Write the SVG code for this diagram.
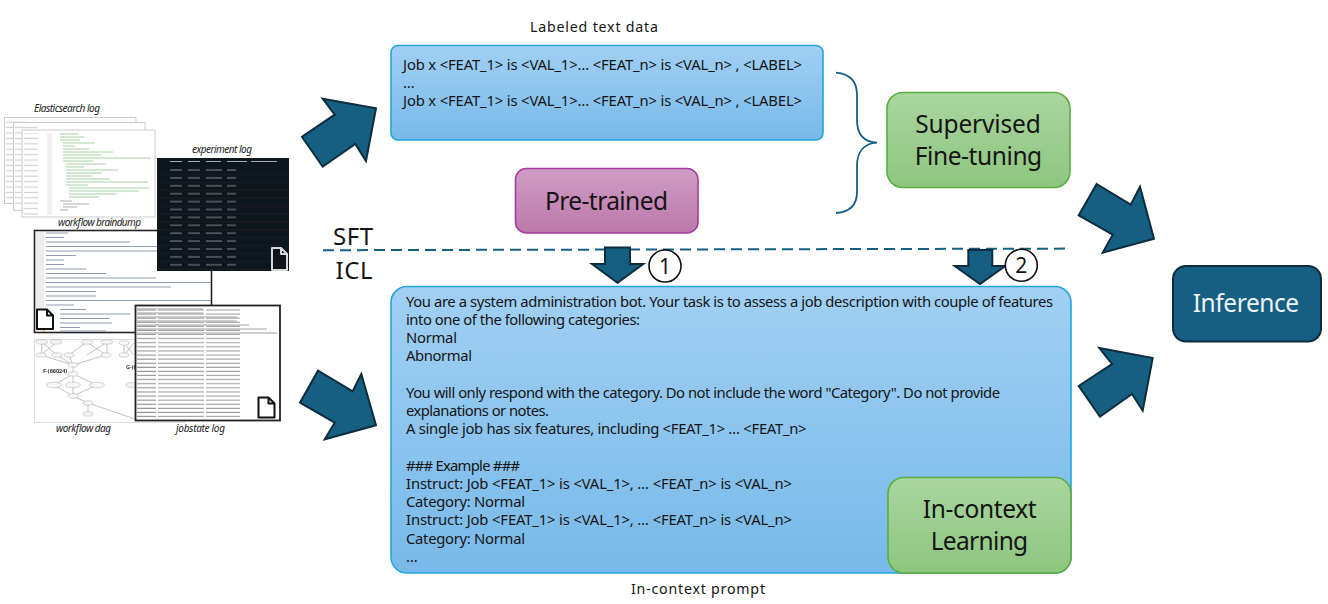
<svg xmlns="http://www.w3.org/2000/svg" width="1328" height="604" viewBox="0 0 1328 604">
<style>
text{font-family:"Noto Sans","Open Sans","Liberation Sans",sans-serif;fill:#151515}
.b{font-size:14.8px}
.h{font-size:24.500px}
.c{font-size:14.200px}
.s{font-size:24px}
.cap{font-size:10px;font-style:italic;fill:#222}
.g{font-size:5.500px;font-weight:700;fill:#333}
.box{stroke-width:1.6}
.arrow{fill:#156082;stroke:#0d2c3e;stroke-width:2}
.doc{stroke-width:2;stroke-linejoin:round}
.num{fill:#fff;stroke:#111;stroke-width:1.6}
.thin{fill:none;stroke:#999;stroke-width:.6}
.n{fill:#f6f6f6;stroke:#aaa;stroke-width:.5}
</style>
<defs>
<linearGradient id="gb" x1="0" y1="0" x2="0" y2="1"><stop offset="0" stop-color="#a0d0f4"/><stop offset="1" stop-color="#78b9e9"/></linearGradient>
<linearGradient id="gg" x1="0" y1="0" x2="0" y2="1"><stop offset="0" stop-color="#aad5a0"/><stop offset="1" stop-color="#8ec67e"/></linearGradient>
<linearGradient id="gp" x1="0" y1="0" x2="0" y2="1"><stop offset="0" stop-color="#d09dc6"/><stop offset="1" stop-color="#bc78ab"/></linearGradient>
<filter id="soft" x="-2%" y="-2%" width="104%" height="104%"><feGaussianBlur stdDeviation="0.4"/></filter>
<pattern id="expRows" patternUnits="userSpaceOnUse" x="157" y="167" width="132" height="7.9">
<rect x="13" y="2.4" width="12" height="1.2" fill="#6f757c"/><rect x="31" y="2.4" width="12" height="1.2" fill="#6f757c"/><rect x="49" y="2.4" width="16" height="1.2" fill="#6f757c"/><rect x="70" y="2.4" width="9" height="1.2" fill="#6f757c"/><rect y="7.2" width="132" height=".5" fill="#20262d"/>
</pattern>
<pattern id="jobRows" patternUnits="userSpaceOnUse" x="136" y="308" width="145" height="4.1">
<rect x="1" y="1.4" width="19" height="1.1" fill="#8f8f8f"/><rect x="22" y="1.4" width="46" height="1.1" fill="#9c9c9c"/><rect x="70" y="1.4" width="34" height="1.1" fill="#9c9c9c"/>
</pattern>
<pattern id="sideRows" patternUnits="userSpaceOnUse" x="0" y="120" width="10" height="5.4">
<rect y="1.6" width="10" height="1.2" fill="#cfcfcf"/>
</pattern>
</defs>

<g id="log-thumbnails">
<g filter="url(#soft)">
<rect x="4.500" y="117.500" width="131.500" height="86" fill="#fff" stroke="#ccc"/>
<rect x="6" y="120" width="22" height="80" fill="url(#sideRows)"/>
<rect x="13.500" y="122.500" width="131.500" height="88" fill="#fff" stroke="#ccc"/>
<rect x="15" y="125" width="22" height="80" fill="url(#sideRows)"/>
<rect x="22" y="130" width="133" height="87" fill="#fff" stroke="#ccc"/>
<rect x="24" y="133" width="14" height="82" fill="url(#sideRows)"/>
<rect x="47" y="133" width="5" height="82" fill="#f0f0f0"/>
<path d="M60 134h18M60 137h24M60 140h20M63 143h32M63 146h12M63 149h26M63 152h50M63 155h38M63 158h88M63 161h30M66 164h40M66 167h18M66 170h52M66 173h36M66 176h26M66 179h44M66 182h82M66 185h22M69 188h80M69 191h70M69 194h48M69 197h30" stroke="#8fc48a" stroke-width=".8" fill="none"/>
<path d="M60 201h12M63 204h26M63 207h14M60 210h8" stroke="#999" stroke-width=".8" fill="none"/>

<rect x="34.500" y="230.500" width="177" height="102" fill="#fff" stroke="#222" stroke-width="1.600"/>
<rect x="36" y="232" width="8" height="99" fill="#ececec"/>
<path d="M46 233h22M46 237.500h18M46 242h84M46 246.500h112M46 251h128M46 255.500h30M46 260h18M46 264.500h18M46 269h40M46 273.500h60M46 278h110M46 282.500h165M46 287h125M46 291.500h50M46 296h50M46 300.500h165M46 305h28M60 309.500h26M60 314h70M60 318.500h50M60 323h52M60 327.500h20M60 331h46" stroke="#8e9bb0" stroke-width="1" fill="none"/>
<path d="M44 326v6" stroke="#d9822b" stroke-width="1"/>

<rect x="157" y="158" width="132" height="113" fill="#10151c"/>
<path d="M170 161.500h12M188 161.500h12M206 161.500h15M227 161.500h20M251 161.500h26" stroke="#a8acb2" stroke-width="1.200" fill="none"/>
<rect x="157" y="167" width="132" height="104" fill="url(#expRows)"/>

<rect x="34.500" y="339.500" width="150" height="83" fill="#fff" stroke="#ddd"/>
<g>
<path class="thin" d="M41.700 342L57 355M57 342L41 355M41.700 342V355M87 342L69 355M87 342L106 355M107 342L87 355M107 342V355M41 355L73 365M57 355L73 365M69 355L73 365M106 355L73 365M73 365V374M73 374L54 385M73 374V385M73 374L97 385M54 385L73 396M73 385V396M97 385L73 396M73 396L88 403M88 403V414M88 403L135 419"/>
<ellipse class="n" cx="41.700" cy="342" rx="6" ry="2.200"/><ellipse class="n" cx="56" cy="342" rx="6" ry="2.200"/><ellipse class="n" cx="87" cy="342" rx="6" ry="2.200"/><ellipse class="n" cx="107" cy="342" rx="6" ry="2.200"/>
<ellipse class="n" cx="41" cy="355" rx="5" ry="2.200"/><ellipse class="n" cx="57" cy="355" rx="5" ry="2.200"/><ellipse class="n" cx="69" cy="355" rx="5" ry="2.200"/><ellipse class="n" cx="106" cy="355" rx="5" ry="2.200"/>
<ellipse class="n" cx="73" cy="365" rx="5" ry="2.200"/><ellipse class="n" cx="73" cy="374" rx="5" ry="2.200"/>
<ellipse class="n" cx="54" cy="385" rx="7.500" ry="2.800"/><ellipse class="n" cx="73" cy="385" rx="7.500" ry="2.800"/><ellipse class="n" cx="97" cy="385" rx="7.500" ry="2.800"/>
<ellipse class="n" cx="73" cy="396" rx="5" ry="2.200"/><ellipse class="n" cx="88" cy="403" rx="5" ry="2.200"/><ellipse class="n" cx="88" cy="414" rx="5.500" ry="2.200"/>
<path class="thin" d="M124 343L134 355M134 343L124 355M124 343V355"/>
<ellipse class="n" cx="124" cy="343" rx="5" ry="2.200"/><ellipse class="n" cx="124" cy="355" rx="5" ry="2.200"/><ellipse class="n" cx="131" cy="385" rx="5" ry="2.400"/>
</g>
<text class="g" x="43" y="373">F-(66024)</text>
<text class="g" x="126" y="369">G-(66</text>

<rect x="135.500" y="305.500" width="144.500" height="115" fill="#fff" stroke="#222" stroke-width="1.800"/>
<rect x="137" y="307" width="142" height="112" fill="url(#jobRows)"/>
<path d="M137 309h66M137 313h66M137 317h100M137 321h100M137 325h112M137 329h130M137 333h140" stroke="#a0a0a0" stroke-width="1"/>
</g>
<path class="doc" stroke="#d8d8d8" fill="#10151c" d="M272 248h9l6 6v16h-15zM281 248v6h6"/>
<path class="doc" stroke="#111" fill="#fff" d="M37 309.500h10l6 6v13.500h-16zM47 309.500v6h6"/>
<path class="doc" stroke="#111" fill="#fff" d="M258.500 397.500h10l6 6v14h-16zM268.500 397.500v6h6"/>
<text class="cap" x="34" y="112" textLength="66">Elasticsearch log</text>
<text class="cap" x="192" y="153" textLength="60">experiment log</text>
<text class="cap" x="58" y="226" textLength="83">workflow braindump</text>
<text class="cap" x="56" y="432" textLength="55">workflow dag</text>
<text class="cap" x="176" y="432" textLength="49">jobstate log</text>
</g>

<g id="connectors">
<path d="M323 250.200L1070 248.600" fill="none" stroke="#156082" stroke-width="2" stroke-dasharray="11 6"/>
<polygon class="arrow" points="322.700,98.700 376,108.300 366,161 355.300,144 322.700,166.700 302,136.700 334.700,114.700"/>
<polygon class="arrow" points="318,370.700 352.700,391.300 361.300,374 376,425.300 324.700,439.300 334.700,422.700 300,402.700"/>
<polygon class="arrow" points="1096.700,184 1130.700,204.700 1140,186.700 1154,238.700 1102.700,252.700 1112.700,234.700 1078.700,215.300"/>
<polygon class="arrow" points="1099.300,348 1152.700,358 1142.700,410.700 1132,394 1100,416.700 1078.700,386 1112,364"/>
<polygon class="arrow" points="605,247.500 630,247.500 630,264 643.300,264 617.500,282.700 592,264 605,264"/>
<polygon class="arrow" points="968.300,250 992.300,250 992.300,266 1005.300,266 980,284 954.700,266 968.300,266"/>
<path d="M836 72.700C850 74 857 82 857 95V120C857 134 864 142 877 142.700C864 143.500 857 152 857 166V192C857 205 850 212 836 213" fill="none" stroke="#156082" stroke-width="1.800"/>
</g>

<g id="label-sft"><text class="s" x="333" y="244.500" textLength="40">SFT</text></g>
<g id="label-icl"><text class="s" x="335.500" y="278.700" textLength="37">ICL</text></g>

<g id="labeled-text-data">
<text class="c" x="530" y="32" textLength="128">Labeled text data</text>
<rect class="box" x="391" y="45.500" width="432" height="94.500" rx="7" fill="url(#gb)" stroke="#23a5dc"/>
<text class="b" x="403" y="70" textLength="399">Job x &lt;FEAT_1&gt; is &lt;VAL_1&gt;… &lt;FEAT_n&gt; is &lt;VAL_n&gt; , &lt;LABEL&gt;</text>
<text class="b" x="403" y="88">…</text>
<text class="b" x="403" y="106" textLength="399">Job x &lt;FEAT_1&gt; is &lt;VAL_1&gt;… &lt;FEAT_n&gt; is &lt;VAL_n&gt; , &lt;LABEL&gt;</text>
</g>

<g id="pre-trained">
<rect class="box" x="515.500" y="168.500" width="182.500" height="64.500" rx="11" fill="url(#gp)" stroke="#a63c9e"/>
<text class="h" x="545" y="209.500" textLength="123">Pre-trained</text>
</g>

<g id="supervised-fine-tuning">
<rect class="box" x="887" y="92.500" width="183" height="95" rx="16" fill="url(#gg)" stroke="#5aae3c"/>
<text class="h" x="915.300" y="133" textLength="125.500">Supervised</text>
<text class="h" x="914.700" y="164.700" textLength="127.500">Fine-tuning</text>
</g>

<g id="inference">
<rect x="1173" y="266" width="148" height="75.500" rx="13" fill="#156082" stroke="#0d2c3e" stroke-width="2"/>
<text class="h" x="1192.700" y="312" textLength="106.500" style="fill:#eef4f8">Inference</text>
</g>

<g id="in-context-prompt">
<rect class="box" x="391" y="286.500" width="680" height="286.500" rx="16" fill="url(#gb)" stroke="#23a5dc"/>
<text class="b" x="406" y="306.700" textLength="647">You are a system administration bot. Your task is to assess a job description with couple of features</text>
<text class="b" x="406" y="325" textLength="234">into one of the following categories:</text>
<text class="b" x="406" y="343" textLength="51">Normal</text>
<text class="b" x="406" y="361" textLength="66">Abnormal</text>
<text class="b" x="406" y="397.700" textLength="594">You will only respond with the category. Do not include the word "Category". Do not provide</text>
<text class="b" x="406" y="415.700" textLength="143">explanations or notes.</text>
<text class="b" x="406" y="434" textLength="400.500">A single job has six features, including &lt;FEAT_1&gt; … &lt;FEAT_n&gt;</text>
<text class="b" x="406" y="470.700" textLength="114">### Example ###</text>
<text class="b" x="406" y="488.700" textLength="386">Instruct: Job &lt;FEAT_1&gt; is &lt;VAL_1&gt;, … &lt;FEAT_n&gt; is &lt;VAL_n&gt;</text>
<text class="b" x="406" y="507" textLength="119">Category: Normal</text>
<text class="b" x="406" y="525" textLength="386">Instruct: Job &lt;FEAT_1&gt; is &lt;VAL_1&gt;, … &lt;FEAT_n&gt; is &lt;VAL_n&gt;</text>
<text class="b" x="406" y="543.700" textLength="119">Category: Normal</text>
<text class="b" x="406" y="562">…</text>
<text class="c" x="631" y="594" textLength="134">In-context prompt</text>
</g>

<g id="in-context-learning">
<rect class="box" x="888" y="477.500" width="183" height="95.500" rx="16" fill="url(#gg)" stroke="#5aae3c"/>
<text class="h" x="922.700" y="518.300" textLength="114">In-context</text>
<text class="h" x="930.700" y="550" textLength="97.500">Learning</text>
</g>

<g id="step-1">
<circle class="num" cx="665" cy="266" r="16"/>
<text x="665" y="273.500" font-size="21" text-anchor="middle">1</text>
</g>
<g id="step-2">
<circle class="num" cx="1021.300" cy="265.300" r="16"/>
<text x="1021.300" y="272.800" font-size="21" text-anchor="middle">2</text>
</g>
</svg>
